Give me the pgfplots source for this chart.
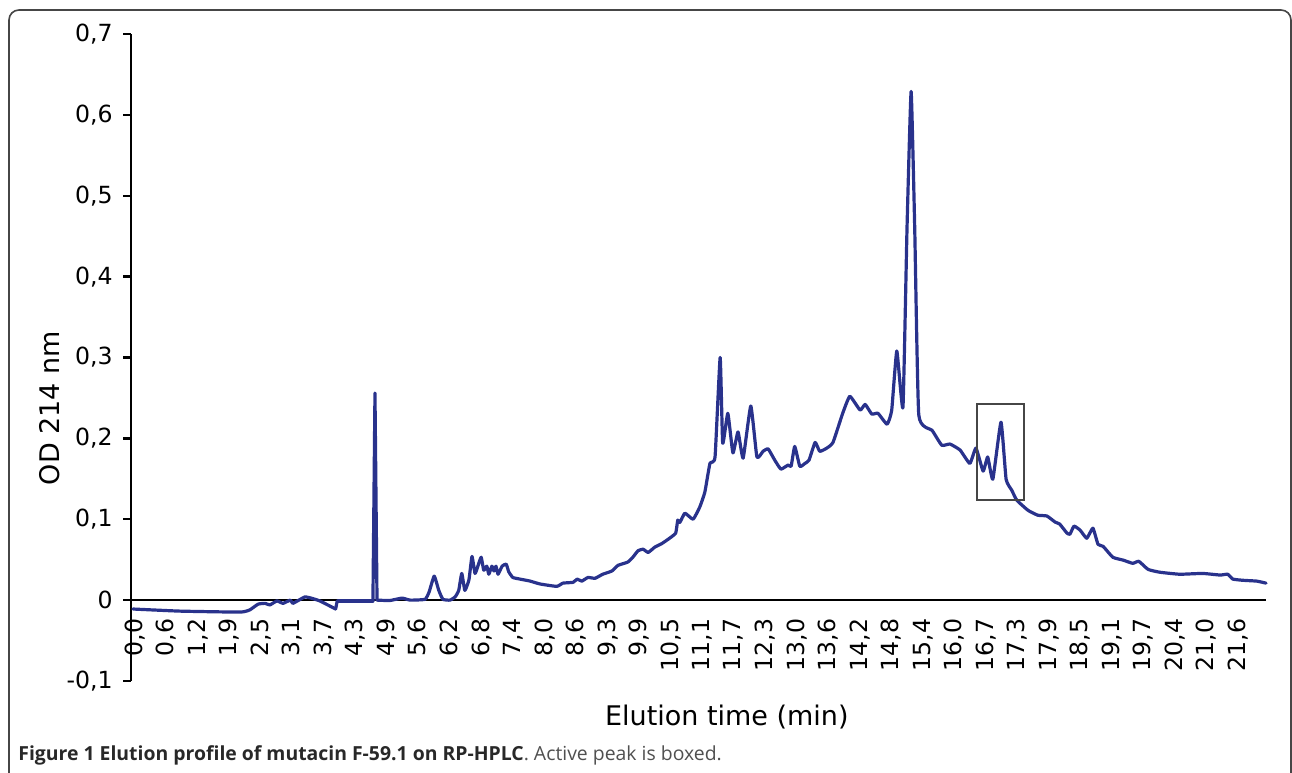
\documentclass[border=0pt]{standalone}
\usepackage{pgfplots}
\pgfplotsset{compat=1.18}
\usepackage{pgfplotstable}
\usepackage{fontspec}
\setmainfont{DejaVu Sans}
\newfontfamily\capfont{Open Sans}
\definecolor{trace}{RGB}{41,50,140}
\definecolor{frame}{RGB}{70,70,70}

\pgfplotstableread{
t v
-0.04 -0.011
0.88 -0.0136
2.06 -0.0148
2.25 -0.012
2.41 -0.005
2.55 -0.004
2.64 -0.006
2.78 -0.001
2.90 -0.004
3.04 0.000
3.09 -0.004
3.21 0.000
3.33 0.004
3.45 0.0025
3.62 -0.001
3.93 -0.011
3.96 -0.001
3.98 -0.001
4.41 -0.001
4.66 -0.001
4.70 0.256
4.74 0.000
4.99 -0.0005
5.23 0.0025
5.39 0.000
5.68 0.001
5.76 0.010
5.86 0.0297
5.95 0.012
6.03 0.001
6.17 0.000
6.27 0.004
6.34 0.012
6.40 0.033
6.46 0.012
6.54 0.025
6.60 0.054
6.66 0.033
6.72 0.043
6.78 0.053
6.83 0.037
6.89 0.042
6.93 0.032
6.99 0.042
7.03 0.036
7.07 0.042
7.11 0.032
7.19 0.042
7.27 0.0445
7.32 0.035
7.40 0.028
7.54 0.026
7.74 0.0235
7.93 0.020
8.26 0.017
8.38 0.021
8.58 0.022
8.66 0.026
8.75 0.0235
8.87 0.028
9.01 0.027
9.16 0.032
9.34 0.036
9.46 0.043
9.65 0.047
9.75 0.053
9.85 0.061
9.95 0.063
10.05 0.059
10.18 0.0655
10.32 0.070
10.48 0.077
10.59 0.083
10.63 0.099
10.67 0.096
10.77 0.1075
10.93 0.100
11.06 0.115
11.16 0.1335
11.26 0.169
11.36 0.177
11.46 0.300
11.51 0.194
11.61 0.231
11.71 0.182
11.81 0.208
11.91 0.1755
12.06 0.240
12.18 0.177
12.30 0.184
12.40 0.187
12.53 0.173
12.65 0.162
12.79 0.167
12.85 0.1655
12.92 0.190
13.02 0.1655
13.12 0.169
13.20 0.173
13.32 0.195
13.41 0.184
13.55 0.188
13.67 0.195
13.86 0.231
14.00 0.252
14.20 0.235
14.30 0.242
14.43 0.230
14.55 0.231
14.73 0.2175
14.82 0.235
14.92 0.308
15.04 0.2385
15.12 0.461
15.20 0.629
15.27 0.461
15.35 0.229
15.61 0.210
15.80 0.1915
15.96 0.193
16.16 0.1855
16.35 0.169
16.47 0.188
16.61 0.1595
16.70 0.177
16.80 0.1495
16.96 0.220
17.06 0.1495
17.17 0.136
17.27 0.1235
17.49 0.111
17.68 0.105
17.86 0.104
18.02 0.0965
18.11 0.094
18.25 0.083
18.31 0.0815
18.39 0.0915
18.51 0.0865
18.64 0.0765
18.76 0.089
18.86 0.069
18.96 0.0665
19.15 0.053
19.35 0.0495
19.54 0.0455
19.66 0.048
19.84 0.038
20.07 0.0345
20.46 0.032
20.91 0.033
21.25 0.031
21.40 0.032
21.50 0.026
21.70 0.0245
21.97 0.0235
22.15 0.021
}\elution

\begin{document}
\begin{tikzpicture}
\useasboundingbox (0,0) rectangle (646pt,386pt);
\draw[frame, line width=0.8pt, rounded corners=5pt] (4.5pt,-20pt) -- (4.5pt,381pt) -- (645.5pt,381pt) -- (645.5pt,-20pt);
\begin{axis}[
  at={(65.5pt,45.5pt)}, anchor=south west,
  scale only axis, width=567.5pt, height=323.5pt,
  xmin=-0.078, xmax=22.15, ymin=-0.1, ymax=0.7,
  axis x line=middle, axis y line=left,
  axis line style={-, line width=1.2pt, black},
  hide obscured x ticks=false, hide obscured y ticks=false,
  clip=false,
  xtick={0,0.6171,1.2343,1.8514,2.4686,3.0857,3.7029,4.32,4.9371,5.5543,6.1714,6.7886,7.4057,8.0229,8.64,9.2571,9.8743,10.4914,11.1086,11.7257,12.3429,12.96,13.5771,14.1943,14.8114,15.4286,16.0457,16.6629,17.28,17.8971,18.5143,19.1314,19.7486,20.3657,20.9829,21.6},
  xticklabels={{0,0},{0,6},{1,2},{1,9},{2,5},{3,1},{3,7},{4,3},{4,9},{5,6},{6,2},{6,8},{7,4},{8,0},{8,6},{9,3},{9,9},{10,5},{11,1},{11,7},{12,3},{13,0},{13,6},{14,2},{14,8},{15,4},{16,0},{16,7},{17,3},{17,9},{18,5},{19,1},{19,7},{20,4},{21,0},{21,6}},
  ytick={-0.1,0,0.1,0.2,0.3,0.4,0.5,0.6,0.7},
  yticklabels={{-0,1},{0},{0,1},{0,2},{0,3},{0,4},{0,5},{0,6},{0,7}},
  xtick style={draw=none},
  ytick style={line width=1.2pt, black},
  tick align=outside, major tick length=4pt,
  xticklabel style={rotate=90, anchor=east, font=\fontsize{11.8}{13}\selectfont, inner xsep=5pt},
  yticklabel style={font=\fontsize{11.8}{13}\selectfont, inner xsep=5pt},
  xlabel={Elution time (min)}, ylabel={OD 214 nm},
  xlabel style={at={(rel axis cs:0.525,-0.0556)}, anchor=center, font=\fontsize{13.5}{15}\selectfont},
  ylabel style={at={(rel axis cs:-0.0714,0.422)}, anchor=center, font=\fontsize{13.5}{15}\selectfont},
  every axis plot/.append style={trace, line width=1.6pt, line join=round, line cap=round},
]
\addplot[smooth, tension=0.25, restrict x to domain=-1:3.93] table[x=t, y=v] {\elution};
\addplot[sharp plot, restrict x to domain=3.93:3.98] table[x=t, y=v] {\elution};
\addplot[smooth, tension=0.25, restrict x to domain=3.98:4.66] table[x=t, y=v] {\elution};
\addplot[sharp plot, restrict x to domain=4.66:4.74] table[x=t, y=v] {\elution};
\addplot[smooth, tension=0.25, restrict x to domain=4.74:23] table[x=t, y=v] {\elution};
\draw[frame, line width=0.6pt] (axis cs:16.49,0.1237) rectangle (axis cs:17.41,0.2424);
\end{axis}
\node[anchor=base west, inner sep=0pt, font=\capfont\fontsize{9.7}{11}\selectfont] at (9pt,5.5pt) {\textcolor[RGB]{40,40,40}{\textbf{Figure 1 Elution profile of mutacin F-59.1 on RP-HPLC}}\textcolor[RGB]{80,80,80}{. Active peak is boxed.}};
\end{tikzpicture}
\end{document}
